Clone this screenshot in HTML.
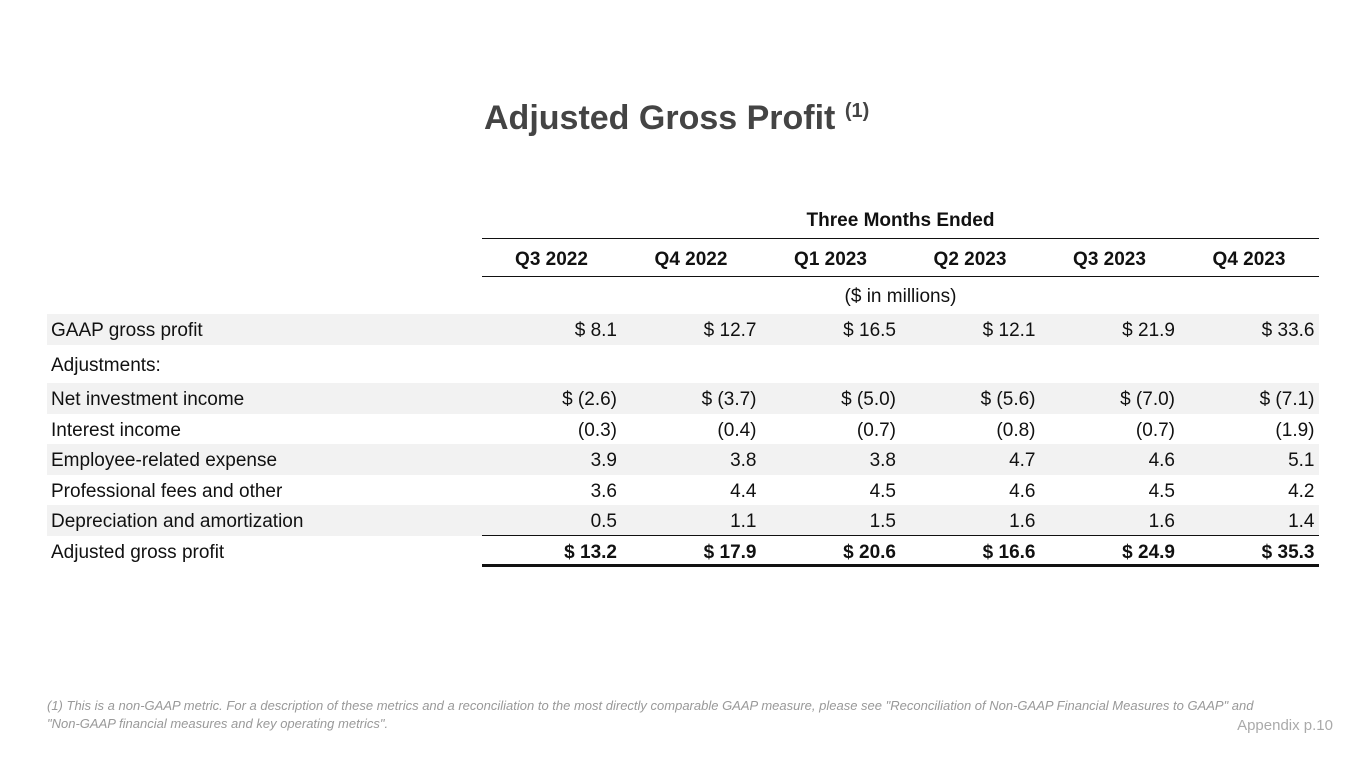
<!DOCTYPE html>
<html><head><meta charset="utf-8"><style>
body{margin:0;width:1365px;height:768px;background:#fff;font-family:"Liberation Sans",sans-serif;color:#111;position:relative;overflow:hidden}
.a{position:absolute}
#title{left:484px;top:99px;font-size:34px;font-weight:bold;color:#444;letter-spacing:0px}
#title sup{font-size:20px;vertical-align:12px}
.row{position:absolute;left:47px;width:1272px;height:31px;font-size:19px;line-height:34px}
.row.g{background:#f2f2f2}
.lbl{position:absolute;left:4px}
.v{position:absolute;width:139px;text-align:right}
.h{position:absolute;width:139px;text-align:center;font-weight:bold}
</style></head><body>
<div id="title" class="a">Adjusted Gross Profit <sup>(1)</sup></div>
<div class="a" style="left:482px;width:837px;top:210px;text-align:center;font-weight:bold;font-size:19px">Three Months Ended</div>
<div class="a" style="left:482px;width:837px;top:238px;height:1px;background:#111"></div>
<div class="a" style="left:482px;width:837px;top:276px;height:1px;background:#111"></div>
<div class="a" style="left:482px;width:837px;top:286px;text-align:center;font-size:19px">($ in millions)</div>
<div id="tbl"></div>
<div class="a" style="left:482px;width:837px;top:535px;height:1px;background:#111"></div>
<div class="a" style="left:482px;width:837px;top:564px;height:3px;background:#111"></div>
<div class="a" style="left:47px;top:697px;width:1240px;font-size:13px;font-style:italic;color:#999;line-height:18px">(1) This is a non-GAAP metric. For a description of these metrics and a reconciliation to the most directly comparable GAAP measure, please see "Reconciliation of Non-GAAP Financial Measures to GAAP" and "Non-GAAP financial measures and key operating metrics".</div>
<div class="a" style="right:32px;top:717px;font-size:15px;color:#aaa">Appendix p.10</div>
<script>
const quarters=["Q3 2022","Q4 2022","Q1 2023","Q2 2023","Q3 2023","Q4 2023"];
const labels=["GAAP gross profit","Adjustments:","Net investment income","Interest income","Employee-related expense","Professional fees and other","Depreciation and amortization","Adjusted gross profit"];
const gaap=["$ 8.1","$ 12.7","$ 16.5","$ 12.1","$ 21.9","$ 33.6"];
const adjustments=[];
const netInv=["$ (2.6)","$ (3.7)","$ (5.0)","$ (5.6)","$ (7.0)","$ (7.1)"];
const interest=["(0.3)","(0.4)","(0.7)","(0.8)","(0.7)","(1.9)"];
const employee=["3.9","3.8","3.8","4.7","4.6","5.1"];
const professional=["3.6","4.4","4.5","4.6","4.5","4.2"];
const depreciation=["0.5","1.1","1.5","1.6","1.6","1.4"];
const adjusted=["$ 13.2","$ 17.9","$ 20.6","$ 16.6","$ 24.9","$ 35.3"];
const values=[gaap,adjustments,netInv,interest,employee,professional,depreciation,adjusted];
const tbl=document.getElementById('tbl');
const colX=i=>482-47+i*139.5;
const hdr=document.createElement('div');hdr.className='row';hdr.style.top='243px';


quarters.forEach((q,i)=>{const d=document.createElement('div');d.className='h';d.style.left=colX(i)+'px';d.textContent=q;


hdr.appendChild(d);});
tbl.appendChild(hdr);
const tops=[314,349,383,414,444,475,505,536];
const grey=[1,0,1,0,1,0,1,0];
labels.forEach((l,r)=>{const row=document.createElement('div');row.className='row'+(grey[r]?' g':'');row.style.top=tops[r]+'px';


const lb=document.createElement('div');lb.className='lbl';lb.textContent=l;


row.appendChild(lb);
values[r].forEach((v,i)=>{const d=document.createElement('div');d.className='v';d.style.left=(colX(i)-4)+'px';d.textContent=v;if(r===7)d.style.fontWeight='bold';


row.appendChild(d);});
tbl.appendChild(row);});
</script>
</body></html>
